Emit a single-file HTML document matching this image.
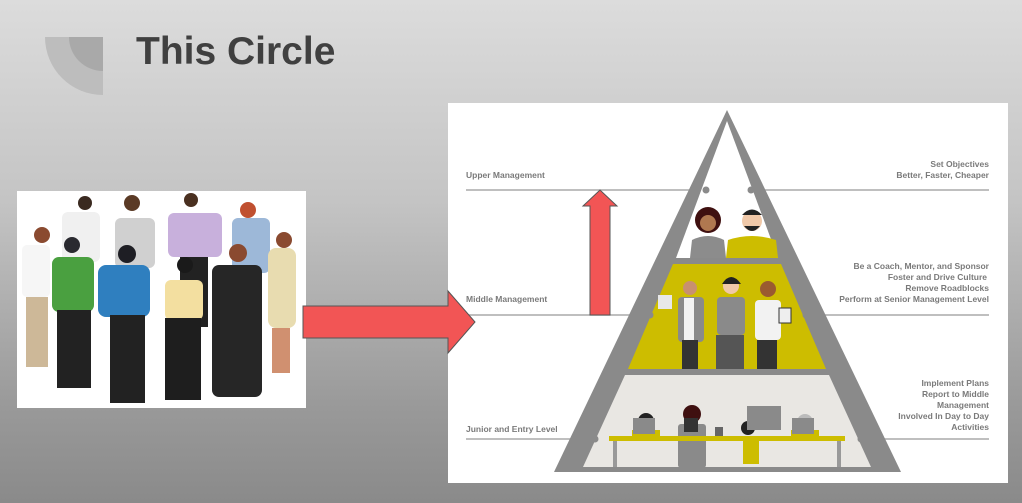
<!DOCTYPE html>
<html><head><meta charset="utf-8"><style>
html,body{margin:0;padding:0;width:1022px;height:503px;overflow:hidden;}
body{background:linear-gradient(#dcdcdc,#c4c4c4 40%,#9a9a9a 80%,#8a8a8a);font-family:"Liberation Sans",sans-serif;}
svg{display:block;}
svg text{font-family:"Liberation Sans",sans-serif;}
</style></head><body>
<svg width="1022" height="503" viewBox="0 0 1022 503" xmlns="http://www.w3.org/2000/svg">
<defs><linearGradient id="bg" x1="0" y1="0" x2="0" y2="1"><stop offset="0" stop-color="#dcdcdc"/><stop offset="0.4" stop-color="#c4c4c4"/><stop offset="0.8" stop-color="#9a9a9a"/><stop offset="1" stop-color="#8a8a8a"/></linearGradient></defs>
<rect x="0" y="0" width="1022" height="503" fill="url(#bg)"/>
<!-- logo -->
<path d="M45,37 L103,37 L103,95 A58,58 0 0 1 45,37 Z" fill="#bdbdbd"/>
<path d="M69,37 L103,37 L103,71 A34,34 0 0 1 69,37 Z" fill="#a9a9a9"/>
<text x="136" y="64" font-size="39" font-weight="bold" fill="#404040">This Circle</text>

<!-- photo -->
<rect x="17" y="191" width="289" height="217" fill="#fff"/>
<g>
<circle cx="85" cy="203" r="7" fill="#3a2a20"/><rect x="62" y="212" width="38" height="50" rx="6" fill="#f0f0f0"/>
<circle cx="132" cy="203" r="8" fill="#5a3a25"/><rect x="115" y="218" width="40" height="50" rx="6" fill="#d0d0d0"/>
<circle cx="191" cy="200" r="7" fill="#4a3020"/><rect x="168" y="213" width="54" height="44" rx="6" fill="#c8b0dc"/><rect x="180" y="257" width="28" height="70" fill="#222"/>
<circle cx="248" cy="210" r="8" fill="#c05030"/><rect x="232" y="218" width="38" height="55" rx="6" fill="#9db8d8"/><rect x="240" y="273" width="20" height="90" fill="#6f8fb0"/>
<circle cx="284" cy="240" r="8" fill="#8a4a30"/><rect x="268" y="248" width="28" height="80" rx="8" fill="#e8dcb0"/><rect x="272" y="328" width="18" height="45" fill="#d09070"/>
<circle cx="42" cy="235" r="8" fill="#8a4a30"/><rect x="22" y="245" width="28" height="52" rx="5" fill="#f6f6f6"/><rect x="26" y="297" width="22" height="70" fill="#cdb898"/>
<circle cx="72" cy="245" r="8" fill="#2a2a30"/><rect x="52" y="257" width="42" height="55" rx="7" fill="#4aa040"/><rect x="57" y="310" width="34" height="78" fill="#222"/>
<circle cx="127" cy="254" r="9" fill="#1e1e24"/><rect x="98" y="265" width="52" height="52" rx="8" fill="#2f7fbf"/><rect x="110" y="315" width="35" height="88" fill="#222"/>
<circle cx="185" cy="265" r="8" fill="#1a1a1a"/><rect x="165" y="280" width="38" height="40" rx="6" fill="#f3dfa0"/><rect x="165" y="318" width="36" height="82" fill="#1e1e1e"/>
<circle cx="238" cy="253" r="9" fill="#8a4a30"/><rect x="212" y="265" width="50" height="132" rx="7" fill="#262626"/>
</g>

<!-- panel -->
<rect x="448" y="103" width="560" height="380" fill="#fff"/>

<!-- lines -->
<g stroke="#aaa" stroke-width="1.5">
<line x1="466" y1="190" x2="706" y2="190"/><line x1="751" y1="190" x2="989" y2="190"/>
<line x1="466" y1="315" x2="650" y2="315"/><line x1="806" y1="315" x2="989" y2="315"/>
<line x1="466" y1="439" x2="595" y2="439"/><line x1="861" y1="439" x2="989" y2="439"/>
</g>

<!-- pyramid -->
<polygon points="727,110 901,472 554,472" fill="#8a8a8a"/>
<polygon points="727,121 778,258 676,258" fill="#fff"/>
<polygon points="673,264 781,264 826,369 628,369" fill="#cdbd00"/>
<polygon points="625,375 829,375 871,467 583,467" fill="#e9e7e3"/>

<!-- top tier people -->
<circle cx="708" cy="220" r="13" fill="#3f1010"/><circle cx="708" cy="223" r="8" fill="#b07850"/>
<path d="M690,258 L692,240 Q708,232 724,240 L726,258 Z" fill="#8c8c8c"/>
<circle cx="752" cy="221" r="10" fill="#f0c8a8"/><path d="M742,215 Q752,204 762,215 Z" fill="#222"/><path d="M744,226 Q752,236 760,226 Z" fill="#222"/>
<path d="M726,258 L728,240 Q752,232 776,240 L778,258 Z" fill="#cdbd00"/>

<!-- middle tier people -->
<circle cx="690" cy="288" r="7" fill="#c89070"/><rect x="678" y="297" width="26" height="45" rx="4" fill="#8a8a8a"/><rect x="684" y="298" width="10" height="42" fill="#f2f2f2"/><rect x="682" y="340" width="16" height="29" fill="#333"/>
<rect x="658" y="295" width="14" height="14" fill="#e8e8e8"/>
<circle cx="731" cy="286" r="8" fill="#f0c8a8"/><path d="M722,284 Q731,270 741,284 Z" fill="#222"/><rect x="717" y="297" width="28" height="38" rx="4" fill="#8a8a8a"/><rect x="716" y="335" width="28" height="34" fill="#555"/>
<circle cx="768" cy="289" r="8" fill="#9a5a30"/><rect x="755" y="300" width="26" height="40" rx="4" fill="#f2f2f2"/><rect x="757" y="340" width="20" height="29" fill="#333"/><rect x="779" y="308" width="12" height="15" fill="#eee" stroke="#333" stroke-width="1"/>

<!-- bottom tier people -->
<circle cx="646" cy="421" r="8" fill="#222"/><rect x="632" y="430" width="28" height="8" fill="#cdbd00"/><rect x="633" y="418" width="22" height="16" fill="#8a8a8a"/>
<circle cx="692" cy="414" r="9" fill="#3f1010"/><rect x="678" y="424" width="28" height="44" rx="3" fill="#8a8a8a"/><rect x="684" y="418" width="14" height="14" fill="#333"/>
<rect x="715" y="427" width="8" height="9" fill="#666"/>
<circle cx="748" cy="428" r="7" fill="#222"/><rect x="743" y="436" width="16" height="28" fill="#cdbd00"/><rect x="747" y="406" width="34" height="24" fill="#8a8a8a"/>
<circle cx="805" cy="422" r="8" fill="#bbb"/><rect x="791" y="430" width="28" height="8" fill="#cdbd00"/><rect x="792" y="418" width="22" height="16" fill="#8a8a8a"/>
<rect x="609" y="436" width="236" height="5" fill="#cdbd00"/>
<rect x="613" y="441" width="4" height="26" fill="#999"/><rect x="837" y="441" width="4" height="26" fill="#999"/>

<!-- dots -->
<g fill="#8a8a8a">
<circle cx="706" cy="190" r="3.5"/><circle cx="751" cy="190" r="3.5"/>
<circle cx="650" cy="315" r="3.5"/><circle cx="806" cy="315" r="3.5"/>
<circle cx="595" cy="439" r="3.5"/><circle cx="861" cy="439" r="3.5"/>
</g>

<!-- red horizontal arrow -->
<polygon points="303,306 448,306 448,291 475,322 448,353 448,338 303,338" fill="#f25555" stroke="#555" stroke-width="1"/>

<!-- vertical red arrow -->
<polygon points="590,315 590,206 583,206 600,190 617,206 610,206 610,315" fill="#f25555" stroke="#555" stroke-width="1"/>

<!-- labels -->
<g font-size="8.5" font-weight="bold" fill="#7a7a7a">
<text x="466" y="178">Upper Management</text>
<text x="466" y="302">Middle Management</text>
<text x="466" y="432">Junior and Entry Level</text>
</g>
<g font-size="8.5" font-weight="bold" fill="#7a7a7a" text-anchor="end">
<text x="989" y="167">Set Objectives</text>
<text x="989" y="178">Better, Faster, Cheaper</text>
<text x="989" y="269">Be a Coach, Mentor, and Sponsor</text>
<text x="987" y="280">Foster and Drive Culture</text>
<text x="989" y="291">Remove Roadblocks</text>
<text x="989" y="302">Perform at Senior Management Level</text>
<text x="989" y="386">Implement Plans</text>
<text x="989" y="397">Report to Middle</text>
<text x="989" y="408">Management</text>
<text x="989" y="419">Involved In Day to Day</text>
<text x="989" y="430">Activities</text>
</g>
</svg>
</body></html>
